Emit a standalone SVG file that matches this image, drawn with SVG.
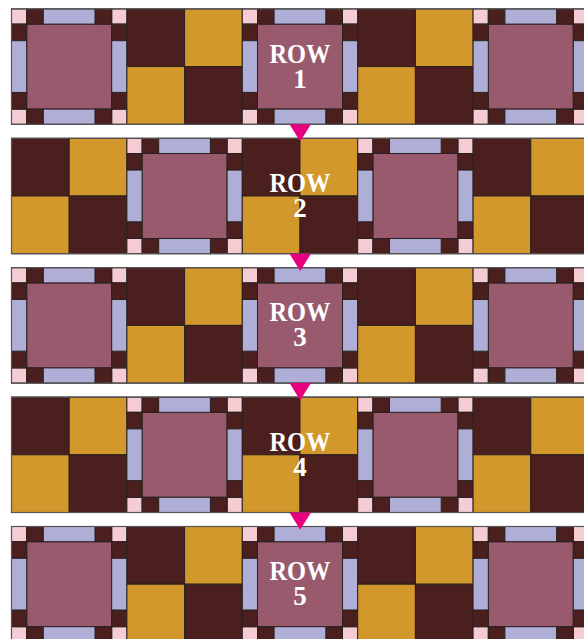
<svg xmlns="http://www.w3.org/2000/svg" xmlns:xlink="http://www.w3.org/1999/xlink" width="584" height="639" viewBox="0 0 584 639">
<style>
.dk{fill:#4b1f1e}
.gd{fill:#d3982c}
.mv{fill:#985a6c}
.lv{fill:#afaed6}
.pk{fill:#f6ccd4}
.pc rect{stroke:#2a2020;stroke-width:1}
.frame{fill:none;stroke:#555;stroke-width:1.2}
.lbl{font-family:"Liberation Serif","DejaVu Serif",serif;font-weight:bold;font-size:27px;fill:#ffffff;text-anchor:middle}
.arr{fill:#e6007e}
</style>
<defs>
<g id="np" class="pc">
<rect class="mv" x="15.2" y="15.2" width="85" height="85"/>
<rect class="pk" x="0" y="0" width="15.2" height="15.2"/>
<rect class="pk" x="100.2" y="0" width="15.2" height="15.2"/>
<rect class="pk" x="0" y="100.2" width="15.2" height="15.2"/>
<rect class="pk" x="100.2" y="100.2" width="15.2" height="15.2"/>
<rect class="dk" x="15.2" y="0" width="16.6" height="15.2"/>
<rect class="dk" x="83.5" y="0" width="16.7" height="15.2"/>
<rect class="dk" x="15.2" y="100.2" width="16.6" height="15.2"/>
<rect class="dk" x="83.5" y="100.2" width="16.7" height="15.2"/>
<rect class="dk" x="0" y="15.2" width="15.2" height="16.6"/>
<rect class="dk" x="0" y="83.5" width="15.2" height="16.7"/>
<rect class="dk" x="100.2" y="15.2" width="15.2" height="16.6"/>
<rect class="dk" x="100.2" y="83.5" width="15.2" height="16.7"/>
<rect class="lv" x="31.8" y="0" width="51.7" height="15.2"/>
<rect class="lv" x="31.8" y="100.2" width="51.7" height="15.2"/>
<rect class="lv" x="0" y="31.8" width="15.2" height="51.7"/>
<rect class="lv" x="100.2" y="31.8" width="15.2" height="51.7"/>
</g>
<g id="fp" class="pc">
<rect class="dk" x="0" y="0" width="57.7" height="57.7"/>
<rect class="gd" x="57.7" y="0" width="57.7" height="57.7"/>
<rect class="gd" x="0" y="57.7" width="57.7" height="57.7"/>
<rect class="dk" x="57.7" y="57.7" width="57.7" height="57.7"/>
</g>
<g id="rowA">
<use xlink:href="#np" x="11.5" y="0"/>
<use xlink:href="#fp" x="126.9" y="0"/>
<use xlink:href="#np" x="242.3" y="0"/>
<use xlink:href="#fp" x="357.7" y="0"/>
<use xlink:href="#np" x="473.1" y="0"/>
<rect class="frame" x="11.5" y="0" width="577" height="115.4"/>
</g>
<g id="rowB">
<use xlink:href="#fp" x="11.5" y="0"/>
<use xlink:href="#np" x="126.9" y="0"/>
<use xlink:href="#fp" x="242.3" y="0"/>
<use xlink:href="#np" x="357.7" y="0"/>
<use xlink:href="#fp" x="473.1" y="0"/>
<rect class="frame" x="11.5" y="0" width="577" height="115.4"/>
</g>
</defs>
<rect x="0" y="0" width="584" height="639" fill="#ffffff"/>
<g id="row1" transform="translate(0,8.9)">
<use xlink:href="#rowA"/>
<text class="lbl"><tspan x="300" y="53.8" textLength="61" lengthAdjust="spacingAndGlyphs">ROW</tspan><tspan x="300" y="78.8">1</tspan></text>
</g>
<g id="row2" transform="translate(0,138.3)">
<use xlink:href="#rowB"/>
<text class="lbl"><tspan x="300" y="53.8" textLength="61" lengthAdjust="spacingAndGlyphs">ROW</tspan><tspan x="300" y="78.8">2</tspan></text>
</g>
<g id="row3" transform="translate(0,267.7)">
<use xlink:href="#rowA"/>
<text class="lbl"><tspan x="300" y="53.8" textLength="61" lengthAdjust="spacingAndGlyphs">ROW</tspan><tspan x="300" y="78.8">3</tspan></text>
</g>
<g id="row4" transform="translate(0,397.1)">
<use xlink:href="#rowB"/>
<text class="lbl"><tspan x="300" y="53.8" textLength="61" lengthAdjust="spacingAndGlyphs">ROW</tspan><tspan x="300" y="78.8">4</tspan></text>
</g>
<g id="row5" transform="translate(0,526.5)">
<use xlink:href="#rowA"/>
<text class="lbl"><tspan x="300" y="53.8" textLength="61" lengthAdjust="spacingAndGlyphs">ROW</tspan><tspan x="300" y="78.8">5</tspan></text>
</g>
<g id="connectors">
<polygon class="arr" points="289.5,124.3 311,124.3 300.2,141.5"/>
<polygon class="arr" points="289.5,253.7 311,253.7 300.2,270.9"/>
<polygon class="arr" points="289.5,383.1 311,383.1 300.2,400.3"/>
<polygon class="arr" points="289.5,512.5 311,512.5 300.2,529.7"/>
</g>
</svg>
